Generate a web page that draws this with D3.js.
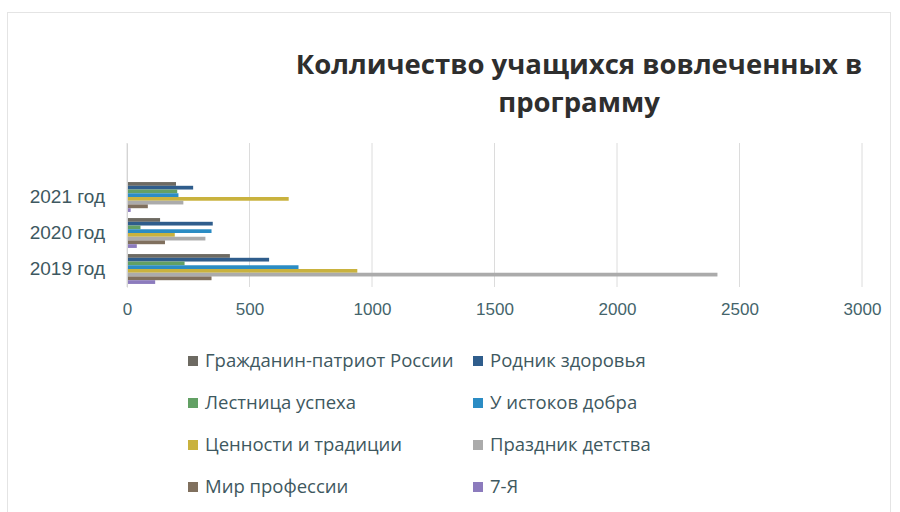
<!DOCTYPE html>
<html>
<head>
<meta charset="utf-8">
<script src="https://cdn.jsdelivr.net/npm/d3@7"></script>
<style>
  body { margin: 0; background: #fff; }
  svg { font-family: "Open Sans", "Noto Sans", sans-serif; }
</style>
</head>
<body>
<svg id="chart" width="900" height="512"></svg>
<script>
// categories bottom-to-top, the top one is an empty row in the source sheet
var categories = ["2019 год", "2020 год", "2021 год", ""];
var seriesNames = ["Гражданин-патриот России", "Родник здоровья", "Лестница успеха", "У истоков добра",
  "Ценности и традиции", "Праздник детства", "Мир профессии", "7-Я"];
var seriesColors = ["#6d6a62", "#2f5d8c", "#62a064", "#2b8cc4", "#c9b23e", "#ababab", "#80705e", "#8c7bbd"];
// values per series: [2019, 2020, 2021]
var values = [
  [420, 135, 200],
  [580, 350, 270],
  [235, 55, 205],
  [700, 345, 210],
  [940, 195, 660],
  [2410, 320, 230],
  [345, 155, 85],
  [115, 40, 15]
];
var xTicks = [0, 500, 1000, 1500, 2000, 2500, 3000];

var svg = d3.select("#chart");

// chart area border (runs off the bottom of the picture)
svg.append("rect")
  .attr("x", 7.5)
  .attr("y", 12.5)
  .attr("width", 883)
  .attr("height", 530)
  .style("fill", "none")
  .style("stroke", "#e4e4e4");

var margin = { top: 143, left: 127, right: 38, bottom: 225 },
  width = 900 - margin.left - margin.right,
  height = 512 - margin.top - margin.bottom;

var g = svg.append("g")
  .attr("transform", "translate(" + margin.left + "," + margin.top + ")");

var x = d3.scaleLinear().domain([0, 3000]).range([0, width]);

var y0 = d3.scaleBand()
  .domain(categories.slice().reverse())
  .range([0, height])
  .paddingInner(0.17)
  .paddingOuter(0.085);

var y1 = d3.scaleBand()
  .domain(d3.range(seriesNames.length))
  .range([0, y0.bandwidth()]);

// gridlines
g.selectAll(".grid")
  .data(xTicks)
  .enter().append("line")
  .attr("x1", function(d) { return x(d); })
  .attr("x2", function(d) { return x(d); })
  .attr("y1", 0)
  .attr("y2", height)
  .style("stroke", "#dcdcdc")
  .style("stroke-width", 1);

// bars
var groups = g.selectAll(".cat")
  .data(categories.slice(0, 3))
  .enter().append("g")
  .attr("transform", function(d) { return "translate(0," + y0(d) + ")"; });

groups.selectAll("rect")
  .data(function(d, ci) {
    return values.map(function(v, si) { return { s: si, v: v[ci] }; });
  })
  .enter().append("rect")
  .attr("x", 0)
  .attr("y", function(d) { return y1(d.s); })
  .attr("height", y1.bandwidth())
  .attr("width", function(d) { return x(d.v); })
  .style("fill", function(d) { return seriesColors[d.s]; });

// axes
var xAxis = d3.axisBottom(x).tickValues(xTicks).tickFormat(d3.format("d")).tickSize(0).tickPadding(16);
var gx = g.append("g")
  .attr("transform", "translate(0," + height + ")")
  .call(xAxis);
gx.select(".domain").remove();
gx.selectAll("text")
  .style("font-size", "17px")
  .style("fill", "#44646b");

var yAxis = d3.axisLeft(y0).tickSize(0).tickPadding(22);
var gy = g.append("g").call(yAxis);
gy.select(".domain").style("stroke", "#d4d4d4");
gy.selectAll("text")
  .style("font-size", "19px")
  .style("fill", "#3e5860");

// title
var title = svg.append("text")
  .attr("x", 579)
  .attr("y", 74)
  .style("font-size", "27.5px")
  .style("font-weight", "bold")
  .style("fill", "#2e2e2e")
  .style("text-anchor", "middle");
title.append("tspan").attr("x", 579).text("Колличество учащихся вовлеченных в");
title.append("tspan").attr("x", 579).attr("dy", 38).text("программу");

// legend
var legend = svg.selectAll(".legend")
  .data(seriesNames)
  .enter().append("g")
  .attr("class", "legend")
  .attr("transform", function(d, i) {
    return "translate(" + (i % 2 === 0 ? 188 : 473) + "," + (361 + Math.floor(i / 2) * 42) + ")";
  });

legend.append("rect")
  .attr("x", 0)
  .attr("y", -5)
  .attr("width", 10)
  .attr("height", 10)
  .style("fill", function(d, i) { return seriesColors[i]; });

legend.append("text")
  .attr("x", 17)
  .attr("dy", "0.35em")
  .style("font-size", "18.5px")
  .style("fill", "#3e5860")
  .text(function(d) { return d; });
</script>
</body>
</html>
